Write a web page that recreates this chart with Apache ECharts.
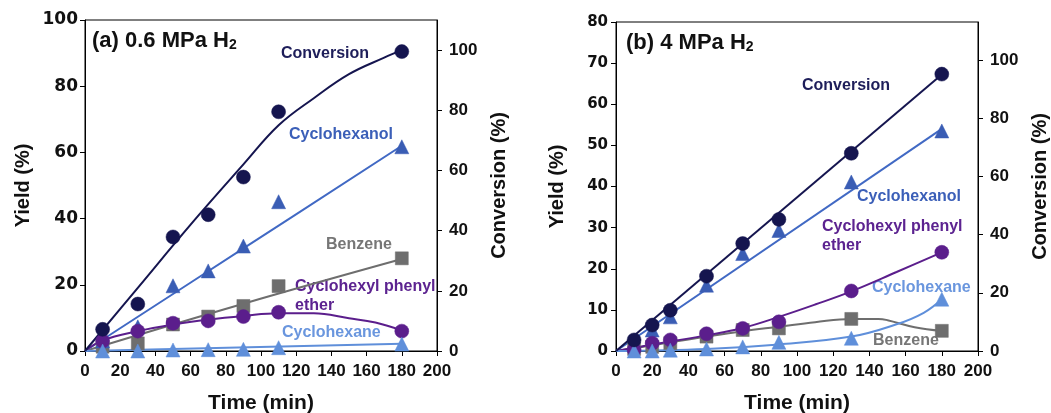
<!DOCTYPE html>
<html>
<head>
<meta charset="utf-8">
<script src="https://cdn.jsdelivr.net/npm/echarts@6/dist/echarts.min.js"></script>
<style>
  html, body { margin: 0; padding: 0; background: #fff; }
  #chart { width: 1051px; height: 413px; }
</style>
</head>
<body>
<div id="chart"></div>
<script>
// (a) 0.6 MPa H2 - measured points
const timeA = [10, 30, 50, 70, 90, 110, 180]
const convA = [7.2, 15.6, 37.9, 45.3, 57.8, 79.5, 99.5]
const hexanolA = [3.0, 7.3, 19.7, 24.2, 31.7, 45.1, 61.7]
const benzeneA = [1.3, 2.3, 8.0, 10.4, 13.6, 19.6, 28.0]
const etherA = [3.0, 6.0, 8.4, 9.1, 10.4, 11.7, 6.0]
const hexaneA = [0, 0, 0.3, 0.4, 0.5, 1.0, 2.1]

// (a) trend curves
const convFitTA = [0, 30, 60, 90, 110, 130, 150, 170, 180]
const convFitA = [0, 21, 42, 62, 75, 84, 92, 97.5, 100]
const hexanolFitTA = [0, 90, 180]
const hexanolFitA = [0, 31, 62]
const benzeneFitTA = [0, 90, 180]
const benzeneFitA = [0, 14.3, 27.8]
const etherFitTA = [0, 10, 30, 50, 70, 90, 110, 130, 150, 165, 180]
const etherFitA = [0, 3.2, 6.0, 8.0, 9.5, 10.6, 11.4, 11.4, 9.9, 8.6, 6.2]
const hexaneFitTA = [0, 180]
const hexaneFitA = [0, 2.2]

// (b) 4 MPa H2 - measured points
const timeB = [10, 20, 30, 50, 70, 90, 130, 180]
const convB = [3.8, 8.9, 14.0, 25.7, 36.9, 45.2, 67.9, 95.1]
const hexanolB = [1.5, 5.1, 8.3, 16.0, 23.7, 29.3, 41.1, 53.5]
const etherB = [0.3, 1.9, 2.7, 4.2, 5.5, 7.1, 14.6, 24.0]
const benzeneB = [0.5, 1.0, 1.9, 3.5, 5.1, 5.5, 7.8, 4.9]
const hexaneB = [0, 0, 0.2, 0.5, 1.0, 2.1, 3.1, 12.6]

// (b) trend curves
const convFitTB = [0, 180]
const convFitB = [0, 95]
const hexanolFitTB = [0, 180]
const hexanolFitB = [0, 54]
const etherFitTB = [0, 30, 50, 70, 90, 110, 130, 155, 180]
const etherFitB = [0, 2.3, 3.8, 5.6, 8.3, 11.3, 14.5, 19.2, 24]
const benzeneFitTB = [0, 30, 50, 70, 90, 110, 130, 145, 150, 165, 180]
const benzeneFitB = [0, 2.1, 3.5, 4.8, 5.9, 7.0, 7.8, 7.8, 7.5, 5.8, 4.9]
const hexaneFitTB = [0, 50, 90, 130, 155, 170, 180]
const hexaneFitB = [0, 0.5, 1.6, 3.5, 6.5, 9.3, 12.6]

const FONT = "'Liberation Sans', Arial, sans-serif"
const WIDE = "'DejaVu Sans', 'Liberation Sans', sans-serif"
const C = {
  conv: '#15154f',
  hexanol: '#3a5db4',
  hexanolLine: '#4169c4',
  benzene: '#6e6e6e',
  ether: '#5b1e8c',
  hexane: '#5f8fda'
}

const zip = (xs, ys) => xs.map((x, i) => [x, ys[i]])

const chart = echarts.init(document.getElementById('chart'))

const tickTxt = (family, size) => ({ color: '#111', fontFamily: family, fontWeight: 'bold', fontSize: size, hideOverlap: false })
const axisNm = { color: '#111', fontFamily: FONT, fontWeight: 'bold', fontSize: 20 }
const axLine = { show: true, lineStyle: { color: '#000', width: 1 } }
const axTick = { show: true, length: 5, lineStyle: { color: '#000' } }

function xAx(gi) {
  return {
    type: 'value', gridIndex: gi, min: 0, max: 200, interval: 20,
    name: 'Time (min)', nameLocation: 'middle', nameGap: 42,
    nameTextStyle: Object.assign({}, axisNm, { fontSize: 21 }),
    axisLine: axLine, axisTick: axTick,
    axisLabel: Object.assign({ margin: 12 }, tickTxt(FONT, 17)),
    splitLine: { show: false }
  }
}
function yAx(gi, max, interval, name, pos, gap, margin, hideMax, lblFont) {
  return {
    type: 'value', gridIndex: gi, min: 0, max: max, interval: interval, position: pos,
    name: name, nameLocation: 'middle', nameGap: gap, nameTextStyle: axisNm,
    axisLine: axLine, axisTick: axTick,
    axisLabel: Object.assign({ margin: margin, showMaxLabel: !hideMax }, lblFont),
    splitLine: { show: false }
  }
}

// measured points sit above the trend curves
function pts(name, xi, yi, data, symbol, color, size) {
  return {
    name: name, type: 'scatter', xAxisIndex: xi, yAxisIndex: yi,
    data: data, symbol: symbol, symbolSize: size || 13,
    itemStyle: { color: color, borderColor: color, borderWidth: 0.5, opacity: 1 },
    z: 4, silent: true
  }
}
function fit(xi, yi, data, color, smooth) {
  return {
    type: 'line', xAxisIndex: xi, yAxisIndex: yi, data: data,
    showSymbol: false, smooth: smooth ? 0.4 : false,
    lineStyle: { color: color, width: 2 }, z: 3, silent: true
  }
}

function lbl(x, y, text, color) {
  return {
    type: 'text', left: x, top: y,
    style: { text: text, fill: color, font: 'bold 16px ' + FONT }
  }
}
function title(x, y, main) {
  return {
    type: 'text', left: x, top: y,
    style: {
      text: '{m|' + main + '}{s|2}',
      rich: {
        m: { fontSize: 22, fontWeight: 'bold', fontFamily: FONT, fill: '#111', lineHeight: 27, verticalAlign: 'bottom' },
        s: { fontSize: 14, fontWeight: 'bold', fontFamily: FONT, fill: '#111', lineHeight: 14, verticalAlign: 'bottom' }
      }
    }
  }
}

const option = {
  animation: false,
  backgroundColor: '#fff',
  grid: [
    { left: 85, top: 20, width: 352, height: 331, show: true, borderColor: '#000', borderWidth: 1, outerBoundsMode: 'none', containLabel: false },
    { left: 616, top: 22, width: 362, height: 329, show: true, borderColor: '#000', borderWidth: 1, outerBoundsMode: 'none', containLabel: false }
  ],
  xAxis: [xAx(0), xAx(1)],
  yAxis: [
    yAx(0, 100, 20, 'Yield (%)', 'left', 52, 7, false, tickTxt(WIDE, 17)),
    yAx(0, 110, 20, 'Conversion (%)', 'right', 52, 12, true, tickTxt(FONT, 17)),
    yAx(1, 80, 10, 'Yield (%)', 'left', 49, 8, false, tickTxt(WIDE, 15)),
    yAx(1, 113, 20, 'Conversion (%)', 'right', 52, 12, true, tickTxt(FONT, 17))
  ],
  series: [
    // panel (a)
    pts('Benzene', 0, 0, zip(timeA, benzeneA), 'rect', C.benzene, 13),
    pts('Cyclohexanol', 0, 0, zip(timeA, hexanolA), 'triangle', C.hexanol, 14),
    pts('Cyclohexyl phenyl ether', 0, 0, zip(timeA, etherA), 'circle', C.ether, 14),
    pts('Cyclohexane', 0, 0, zip(timeA, hexaneA), 'triangle', C.hexane, 14),
    pts('Conversion', 0, 1, zip(timeA, convA), 'circle', C.conv, 14),
    fit(0, 0, zip(benzeneFitTA, benzeneFitA), C.benzene, true),
    fit(0, 0, zip(hexanolFitTA, hexanolFitA), C.hexanolLine, true),
    fit(0, 0, zip(etherFitTA, etherFitA), C.ether, true),
    fit(0, 0, zip(hexaneFitTA, hexaneFitA), C.hexane, false),
    fit(0, 1, zip(convFitTA, convFitA), C.conv, true),
    // panel (b)
    pts('Benzene', 1, 2, zip(timeB, benzeneB), 'rect', C.benzene, 13),
    pts('Cyclohexanol', 1, 2, zip(timeB, hexanolB), 'triangle', C.hexanol, 14),
    pts('Cyclohexyl phenyl ether', 1, 2, zip(timeB, etherB), 'circle', C.ether, 14),
    pts('Cyclohexane', 1, 2, zip(timeB, hexaneB), 'triangle', C.hexane, 14),
    pts('Conversion', 1, 3, zip(timeB, convB), 'circle', C.conv, 14),
    fit(1, 2, zip(benzeneFitTB, benzeneFitB), C.benzene, true),
    fit(1, 2, zip(hexanolFitTB, hexanolFitB), C.hexanolLine, false),
    fit(1, 2, zip(etherFitTB, etherFitB), C.ether, true),
    fit(1, 2, zip(hexaneFitTB, hexaneFitB), C.hexane, true),
    fit(1, 3, zip(convFitTB, convFitB), C.conv, false)
  ],
  graphic: [
    title(92, 30, '(a) 0.6 MPa H'),
    lbl(281, 46, 'Conversion', '#1e1e5a'),
    lbl(289, 127, 'Cyclohexanol', '#3b5fb8'),
    lbl(326, 237, 'Benzene', '#767676'),
    lbl(295, 279, 'Cyclohexyl phenyl', '#5c2390'),
    lbl(295, 298, 'ether', '#5c2390'),
    lbl(282, 325, 'Cyclohexane', '#6a96de'),

    title(626, 32, '(b) 4 MPa H'),
    lbl(802, 78, 'Conversion', '#1e1e5a'),
    lbl(857, 189, 'Cyclohexanol', '#3b5fb8'),
    lbl(822, 219, 'Cyclohexyl phenyl', '#5c2390'),
    lbl(822, 238, 'ether', '#5c2390'),
    lbl(872, 280, 'Cyclohexane', '#6a96de'),
    lbl(873, 333, 'Benzene', '#767676')
  ]
}

chart.setOption(option)
</script>
</body>
</html>
